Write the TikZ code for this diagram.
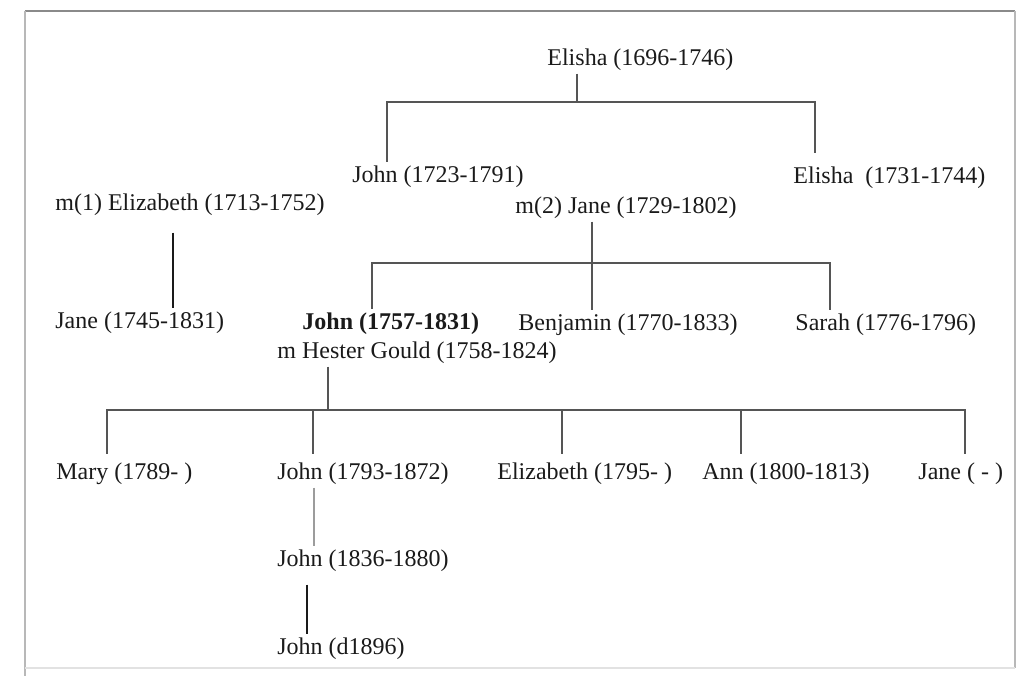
\documentclass[tikz,border=0pt]{standalone}
\usepackage{fontspec}
\setmainfont{Liberation Serif}
\usetikzlibrary{calc}
\definecolor{ink}{HTML}{1A1A1A}
\definecolor{wire}{HTML}{555555}
\definecolor{wirepale}{HTML}{9C9C9C}
\definecolor{frametop}{HTML}{8A8A8A}
\definecolor{frameside}{HTML}{B8B8B8}
\definecolor{framebot}{HTML}{E2E2E2}

\begin{document}
\begin{tikzpicture}[
    x=0.5pt, y=-0.5pt,
    font=\fontsize{12}{14}\selectfont,
    person/.style={anchor=base west, inner xsep=0pt, inner ysep=1.5pt, text=ink},
    link/.style={draw=wire, line width=0.9pt},
    linkdark/.style={draw=ink, line width=1.3pt},
    linkpale/.style={draw=wirepale, line width=1pt},
  ]
\useasboundingbox (0,0) rectangle (1020,676);

% frame
\draw[frametop, line width=1pt] (25,11) -- (1015,11);
\draw[frameside, line width=1pt] (25,11) -- (25,676);
\draw[frameside, line width=1pt] (1015,11) -- (1015,668);
\draw[framebot, line width=0.8pt] (25,668) -- (1015,668);

% generation 1 and 2
\node[person] (elisha)  at (547,65)  {Elisha (1696-1746)};
\node[person] (john1)   at (352,182) {John (1723-1791)};
\node[person] (elisha2) at (793,183) {Elisha\ \ (1731-1744)};
\node[person] (eliz)    at (55,210)  {m(1) Elizabeth (1713-1752)};
\node[person] (jane1)   at (515,213) {m(2) Jane (1729-1802)};

% generation 3
\node[person] (jane2)   at (55,328)  {Jane (1745-1831)};
\node[person] (john2)   at (302,329) {\textbf{John (1757-1831)}};
\node[person] (hester)  at (277,358) {m Hester Gould (1758-1824)};
\node[person] (benj)    at (518,330) {Benjamin (1770-1833)};
\node[person] (sarah)   at (795,330) {Sarah (1776-1796)};

% generation 4 and on
\node[person] (mary)    at (56,479)  {Mary (1789- )};
\node[person] (john3)   at (277,479) {John (1793-1872)};
\node[person] (eliz2)   at (497,479) {Elizabeth (1795- )};
\node[person] (ann)     at (702,479) {Ann (1800-1813)};
\node[person] (jane3)   at (918,479) {Jane ( - )};
\node[person] (john4)   at (277,566) {John (1836-1880)};
\node[person] (john5)   at (277,654) {John (d1896)};

% junctions
\coordinate (bar1l) at (387,102);
\coordinate (bar1m) at (577,102);
\coordinate (bar1r) at (815,102);
\coordinate (bar2l) at (372,263);
\coordinate (bar2m) at (592,263);
\coordinate (bar2r) at (830,263);
\coordinate (bar3a) at (107,410);
\coordinate (bar3b) at (313,410);
\coordinate (bar3m) at (328,410);
\coordinate (bar3c) at (562,410);
\coordinate (bar3d) at (741,410);
\coordinate (bar3e) at (965,410);
\coordinate (col1)  at (173,300);
\coordinate (col2)  at (314,500);
\coordinate (col3)  at (307,600);

\draw[link] (elisha.south -| bar1m) -- (bar1m);
\draw[link] (john1.north -| bar1l) -- (bar1l) -- (bar1r)
  -- ([yshift=5pt]elisha2.north -| bar1r);

\draw[linkdark, shorten <=7pt] (eliz.south -| col1) -- (jane2.north -| col1);

\draw[link] (jane1.south -| bar2m) -- (benj.north -| bar2m);
\draw[link] (john2.north -| bar2l) -- (bar2l) -- (bar2r) -- (sarah.north -| bar2r);

\draw[link] (hester.south -| bar3m) -- (bar3m);
\draw[link] ([yshift=2.5pt]mary.north -| bar3a) -- (bar3a) -- (bar3e)
  -- ([yshift=2.5pt]jane3.north -| bar3e);
\foreach \c/\n in {bar3b/john3, bar3c/eliz2, bar3d/ann}
  \draw[link, shorten >=2.5pt] (\c) -- (\n.north -| \c);

\draw[linkpale] (john3.south -| col2) -- (john4.north -| col2);
\draw[linkdark, shorten <=5pt] (john4.south -| col3) -- (john5.north -| col3);

\end{tikzpicture}
\end{document}
